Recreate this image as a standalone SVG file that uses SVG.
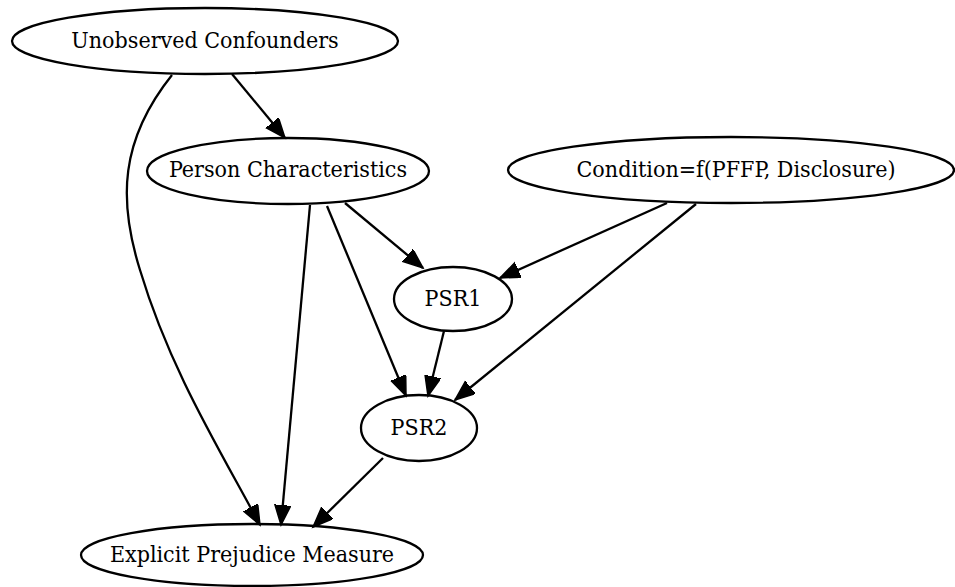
<svg xmlns="http://www.w3.org/2000/svg" width="955" height="587" viewBox="0 0 955 587">
<style>
.n ellipse{fill:none;stroke:#000;stroke-width:2.3}
.n text{font-family:"DejaVu Serif Condensed","DejaVu Serif",serif;font-size:23px;text-anchor:middle;fill:#000}
.e path{fill:none;stroke:#000;stroke-width:2.3;marker-end:url(#ah)}
</style>
<defs>
<marker id="ah" markerUnits="userSpaceOnUse" markerWidth="24" markerHeight="18" refX="20" refY="8" orient="auto">
<path d="M0,0 L20,8 L0,16 Z" fill="#000" stroke="#000" stroke-width="1.5"/>
</marker>
</defs>
<g id="edges" class="e">
<path d="M232,74 L285,138"/>
<path d="M172,75 C120,140 118,200 140,270 C170,370 220,450 260,525"/>
<path d="M310,205 L281,525"/>
<path d="M345,203 L423,268"/>
<path d="M327,206 L406,396"/>
<path d="M667,203 L500,278"/>
<path d="M696,204 L455,400"/>
<path d="M444,331 L428,396"/>
<path d="M383,458 L313,527"/>
</g>
<g id="unobserved" class="n"><ellipse cx="205" cy="41" rx="193" ry="33"/><text x="205" y="48">Unobserved Confounders</text></g>
<g id="person" class="n"><ellipse cx="288" cy="171" rx="141" ry="33"/><text x="288" y="177">Person Characteristics</text></g>
<g id="condition" class="n"><ellipse cx="731" cy="170" rx="223" ry="33"/><text x="736" y="177">Condition=f(PFFP, Disclosure)</text></g>
<g id="psr1" class="n"><ellipse cx="453" cy="299" rx="59" ry="32"/><text x="453" y="306">PSR1</text></g>
<g id="psr2" class="n"><ellipse cx="419" cy="428" rx="58" ry="33"/><text x="419" y="435">PSR2</text></g>
<g id="explicit" class="n"><ellipse cx="252" cy="555" rx="171" ry="31"/><text x="252" y="562">Explicit Prejudice Measure</text></g>
</svg>
